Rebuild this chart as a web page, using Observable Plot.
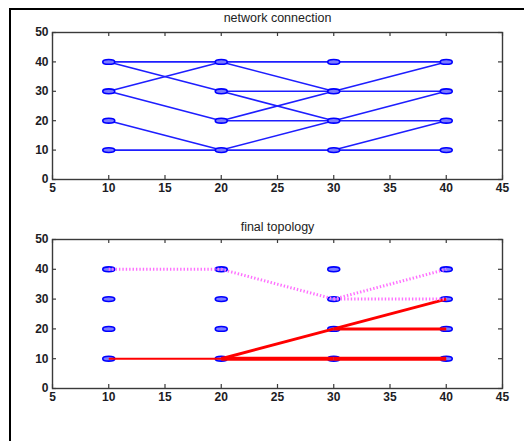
<!DOCTYPE html>
<html><head><meta charset="utf-8">
<script src="https://cdn.jsdelivr.net/npm/d3@7"></script>
<script src="https://cdn.jsdelivr.net/npm/@observablehq/plot@0.6"></script>
<style>
body{margin:0;background:#fff;}
#wrap{position:relative;width:524px;height:441px;overflow:hidden;background:#fff;}
#border{position:absolute;left:9px;top:8px;width:530px;height:450px;border-top:2px solid #000;border-left:2px solid #000;}
#top,#bottom{position:absolute;left:0;}
#top{top:0}
#bottom{top:205px}
</style></head><body>
<div id="wrap"><div id="border"></div><div id="top"></div><div id="bottom"></div></div>
<script>
// ---- data ----
const xTicks = [5, 10, 15, 20, 25, 30, 35, 40, 45];
const yTicks = [0, 10, 20, 30, 40, 50];
const nodeX = [10, 20, 30, 40];
const nodeY = [10, 20, 30, 40];
const titles = ["network connection", "final topology"];
// network connections: [x1, y1, x2, y2]
const networkEdges = [
  [10, 40, 20, 40], [20, 40, 30, 40], [30, 40, 40, 40],
  [10, 40, 20, 30], [10, 30, 20, 40], [10, 30, 20, 20], [10, 20, 20, 10],
  [10, 10, 20, 10], [20, 10, 30, 10], [30, 10, 40, 10],
  [20, 40, 30, 30], [20, 30, 30, 30], [20, 30, 30, 20],
  [20, 20, 30, 30], [20, 20, 30, 20], [20, 10, 30, 20],
  [30, 30, 40, 40], [30, 30, 40, 30], [30, 20, 40, 30],
  [30, 20, 40, 20], [30, 10, 40, 20]
];
// final topology: primary (red) paths with load, backup (dotted) paths
const primaryEdges = [
  [10, 10, 20, 10], [20, 10, 30, 10], [30, 10, 40, 10],
  [20, 10, 30, 20], [30, 20, 40, 30], [30, 20, 40, 20]
];
const primaryLoad = [1, 3, 3, 2, 2, 2];
const backupEdges = [
  [10, 40, 20, 40], [20, 40, 30, 30], [30, 30, 40, 40], [30, 30, 40, 30]
];

// ---- helpers ----
const nodes = nodeX.flatMap(x => nodeY.map(y => ({x, y})));
const toLinks = (arr, load) => arr.map((d, i) => ({x1: d[0], y1: d[1], x2: d[2], y2: d[3], load: load ? load[i] : 1}));

const ellipse = {
  draw(ctx) {
    const rx = 6, ry = 2.4, k = 0.5523;
    ctx.moveTo(rx, 0);
    ctx.bezierCurveTo(rx, ry * k, rx * k, ry, 0, ry);
    ctx.bezierCurveTo(-rx * k, ry, -rx, ry * k, -rx, 0);
    ctx.bezierCurveTo(-rx, -ry * k, -rx * k, -ry, 0, -ry);
    ctx.bezierCurveTo(rx * k, -ry, rx, -ry * k, rx, 0);
    ctx.closePath();
  }
};

const FONT = "'Liberation Sans', Arial, Helvetica, sans-serif";
const AX = "#3a3a3a";

function panel({title, marginTop, frameH, titleDy, marks}) {
  const frameW = 502 - 52;
  return Plot.plot({
    width: 524,
    height: marginTop + frameH + 26,
    marginLeft: 52, marginRight: 22, marginTop, marginBottom: 26,
    style: {fontFamily: FONT, color: "#1c1c24", background: "transparent"},
    x: {domain: [5, 45]},
    y: {domain: [0, 50]},
    marks: [
      ...marks,
      Plot.frame({stroke: AX, strokeWidth: 1.4}),
      Plot.tickX(xTicks, {x: d => d, insetTop: frameH - 4, stroke: AX, strokeWidth: 1.2}),
      Plot.tickX(xTicks, {x: d => d, insetBottom: frameH - 4, stroke: AX, strokeWidth: 1.2}),
      Plot.tickY(yTicks, {y: d => d, insetRight: frameW - 4, stroke: AX, strokeWidth: 1.2}),
      Plot.tickY(yTicks, {y: d => d, insetLeft: frameW - 4, stroke: AX, strokeWidth: 1.2}),
      Plot.axisX(xTicks, {tickSize: 0, tickPadding: 4, label: null, fontSize: 12, fontWeight: "bold"}),
      Plot.axisY(yTicks, {tickSize: 0, tickPadding: 4, label: null, fontSize: 12, fontWeight: "bold"}),
      Plot.text([title], {text: d => d, frameAnchor: "top", lineAnchor: "middle", dy: titleDy, fontSize: 12.5, fill: "#222"})
    ]
  });
}

const nodeMark = Plot.dot(nodes, {x: "x", y: "y", symbol: ellipse, stroke: "#0000ff", strokeWidth: 1.6, fill: "#7c7cff"});

document.getElementById("top").append(panel({
  title: titles[0], marginTop: 32, frameH: 147, titleDy: -15,
  marks: [
    Plot.link(toLinks(networkEdges), {x1: "x1", y1: "y1", x2: "x2", y2: "y2", stroke: "#1e1eff", strokeWidth: 1.6}),
    nodeMark
  ]
}));

document.getElementById("bottom").append(panel({
  title: titles[1], marginTop: 34, frameH: 149, titleDy: -13,
  marks: [
    nodeMark,
    Plot.link(toLinks(primaryEdges, primaryLoad), {x1: "x1", y1: "y1", x2: "x2", y2: "y2", stroke: "#ff0000", strokeWidth: d => 1 + d.load}),
    Plot.link(toLinks(backupEdges), {x1: "x1", y1: "y1", x2: "x2", y2: "y2", stroke: "#ff70ff", strokeWidth: 3, strokeDasharray: "1.4 2"})
  ]
}));
</script>
</body></html>
